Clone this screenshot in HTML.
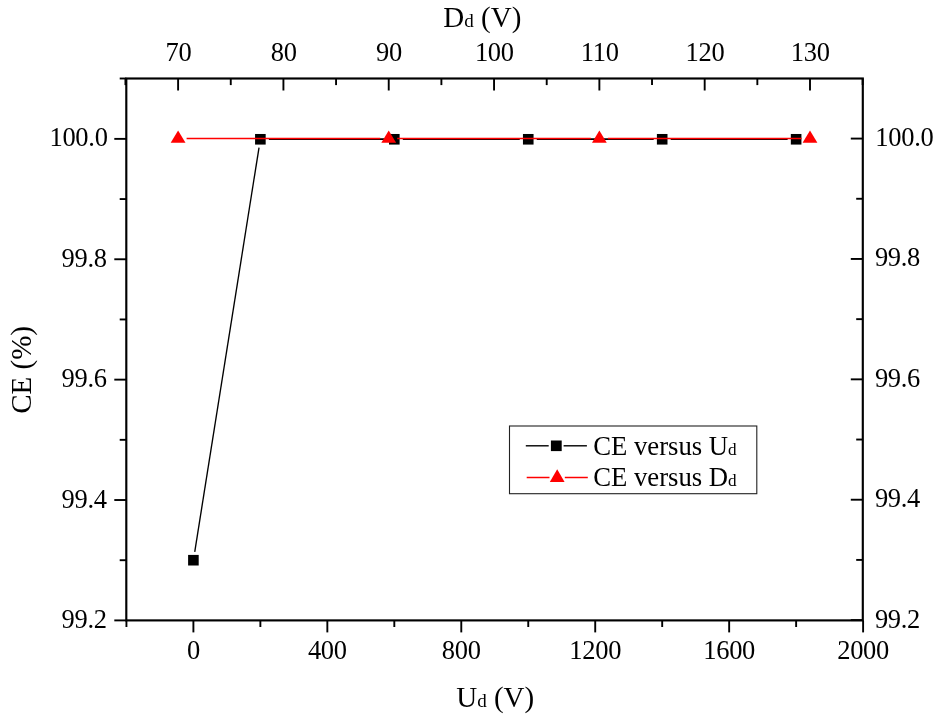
<!DOCTYPE html>
<html lang="en"><head><meta charset="utf-8"><title>CE versus Ud and Dd</title>
<style>html,body{margin:0;padding:0;background:#fff}body{width:943px;height:720px;overflow:hidden}svg{display:block}text{font-family:"Liberation Serif","Times New Roman",serif;fill:#000}.tl{font-size:26.5px;letter-spacing:-0.3px}.tt{font-size:29.0px}.lg{font-size:26.7px}</style></head><body>
<svg width="943" height="720" viewBox="0 0 943 720">
<rect width="943" height="720" fill="#fff"/>
<g stroke="#000" fill="none">
<line x1="194.74" y1="551.82" x2="259.03" y2="147.52" stroke-width="1.35"/>
<line x1="268.87" y1="139.13" x2="385.81" y2="139.13" stroke-width="1.6"/>
<line x1="402.81" y1="139.13" x2="519.75" y2="139.13" stroke-width="1.6"/>
<line x1="536.75" y1="139.13" x2="653.69" y2="139.13" stroke-width="1.6"/>
<line x1="670.69" y1="139.13" x2="787.63" y2="139.13" stroke-width="1.6"/>
</g>
<g fill="#000">
<rect x="188.10" y="554.91" width="10.60" height="10.60"/>
<rect x="255.07" y="133.98" width="10.60" height="10.60"/>
<rect x="389.01" y="133.98" width="10.60" height="10.60"/>
<rect x="522.95" y="133.98" width="10.60" height="10.60"/>
<rect x="656.89" y="133.98" width="10.60" height="10.60"/>
<rect x="790.83" y="133.98" width="10.60" height="10.60"/>
</g>
<g stroke="#ff0000" stroke-width="1.5" fill="none">
<line x1="186.60" y1="138.58" x2="380.23" y2="138.58"/>
<line x1="397.23" y1="138.58" x2="590.87" y2="138.58"/>
<line x1="607.87" y1="138.58" x2="801.50" y2="138.58"/>
</g>
<g fill="#ff0000">
<polygon points="178.10,130.48 170.70,142.78 185.50,142.78"/>
<polygon points="388.73,130.48 381.33,142.78 396.13,142.78"/>
<polygon points="599.37,130.48 591.97,142.78 606.77,142.78"/>
<polygon points="810.00,130.48 802.60,142.78 817.40,142.78"/>
</g>
<g stroke="#000" fill="none" stroke-linecap="butt">
<rect x="126.30" y="78.50" width="736.50" height="541.90" stroke-width="2.15"/>
</g>
<g stroke="#000" stroke-width="1.9">
<line x1="126.43" y1="620.40" x2="126.43" y2="627.00"/>
<line x1="193.40" y1="620.40" x2="193.40" y2="632.40"/>
<line x1="260.37" y1="620.40" x2="260.37" y2="627.00"/>
<line x1="327.34" y1="620.40" x2="327.34" y2="632.40"/>
<line x1="394.31" y1="620.40" x2="394.31" y2="627.00"/>
<line x1="461.28" y1="620.40" x2="461.28" y2="632.40"/>
<line x1="528.25" y1="620.40" x2="528.25" y2="627.00"/>
<line x1="595.22" y1="620.40" x2="595.22" y2="632.40"/>
<line x1="662.19" y1="620.40" x2="662.19" y2="627.00"/>
<line x1="729.16" y1="620.40" x2="729.16" y2="632.40"/>
<line x1="796.13" y1="620.40" x2="796.13" y2="627.00"/>
<line x1="863.10" y1="620.40" x2="863.10" y2="632.40"/>
<line x1="125.44" y1="78.50" x2="125.44" y2="85.10"/>
<line x1="178.10" y1="78.50" x2="178.10" y2="90.50"/>
<line x1="230.76" y1="78.50" x2="230.76" y2="85.10"/>
<line x1="283.42" y1="78.50" x2="283.42" y2="90.50"/>
<line x1="336.07" y1="78.50" x2="336.07" y2="85.10"/>
<line x1="388.73" y1="78.50" x2="388.73" y2="90.50"/>
<line x1="441.39" y1="78.50" x2="441.39" y2="85.10"/>
<line x1="494.05" y1="78.50" x2="494.05" y2="90.50"/>
<line x1="546.71" y1="78.50" x2="546.71" y2="85.10"/>
<line x1="599.37" y1="78.50" x2="599.37" y2="90.50"/>
<line x1="652.02" y1="78.50" x2="652.02" y2="85.10"/>
<line x1="704.68" y1="78.50" x2="704.68" y2="90.50"/>
<line x1="757.34" y1="78.50" x2="757.34" y2="85.10"/>
<line x1="810.00" y1="78.50" x2="810.00" y2="90.50"/>
<line x1="862.66" y1="78.50" x2="862.66" y2="85.10"/>
<line x1="126.30" y1="620.40" x2="114.30" y2="620.40"/>
<line x1="862.80" y1="620.10" x2="850.80" y2="620.10"/>
<line x1="126.30" y1="560.21" x2="119.70" y2="560.21"/>
<line x1="862.80" y1="559.91" x2="856.20" y2="559.91"/>
<line x1="126.30" y1="500.02" x2="114.30" y2="500.02"/>
<line x1="862.80" y1="499.72" x2="850.80" y2="499.72"/>
<line x1="126.30" y1="439.83" x2="119.70" y2="439.83"/>
<line x1="862.80" y1="439.53" x2="856.20" y2="439.53"/>
<line x1="126.30" y1="379.64" x2="114.30" y2="379.64"/>
<line x1="862.80" y1="379.34" x2="850.80" y2="379.34"/>
<line x1="126.30" y1="319.45" x2="119.70" y2="319.45"/>
<line x1="862.80" y1="319.15" x2="856.20" y2="319.15"/>
<line x1="126.30" y1="259.26" x2="114.30" y2="259.26"/>
<line x1="862.80" y1="258.96" x2="850.80" y2="258.96"/>
<line x1="126.30" y1="199.07" x2="119.70" y2="199.07"/>
<line x1="862.80" y1="198.77" x2="856.20" y2="198.77"/>
<line x1="126.30" y1="138.88" x2="114.30" y2="138.88"/>
<line x1="862.80" y1="138.58" x2="850.80" y2="138.58"/>
<line x1="126.30" y1="78.50" x2="119.70" y2="78.50"/>
</g>
<g class="tl" text-anchor="middle">
<text x="193.40" y="659.1">0</text>
<text x="327.34" y="659.1">400</text>
<text x="461.28" y="659.1">800</text>
<text x="595.22" y="659.1">1200</text>
<text x="729.16" y="659.1">1600</text>
<text x="863.10" y="659.1">2000</text>
<text x="178.40" y="60.7">70</text>
<text x="283.72" y="60.7">80</text>
<text x="389.03" y="60.7">90</text>
<text x="494.35" y="60.7">100</text>
<text x="599.67" y="60.7">110</text>
<text x="704.98" y="60.7">120</text>
<text x="810.30" y="60.7">130</text>
</g>
<g class="tl" text-anchor="end">
<text x="106.7" y="628.00">99.2</text>
<text x="106.7" y="507.62">99.4</text>
<text x="106.7" y="387.24">99.6</text>
<text x="106.7" y="266.86">99.8</text>
<text x="107.6" y="146.48">100.0</text>
</g>
<g class="tl" text-anchor="start">
<text x="874.9" y="627.60">99.2</text>
<text x="874.9" y="507.22">99.4</text>
<text x="874.9" y="386.84">99.6</text>
<text x="874.9" y="266.46">99.8</text>
<text x="875.3" y="146.08">100.0</text>
</g>
<text class="tt" x="443.3" y="26.6">D<tspan style="font-size:19.1px">d</tspan> (V)</text>
<text class="tt" x="456.2" y="706.6">U<tspan style="font-size:19.1px">d</tspan> (V)</text>
<text class="tt" transform="translate(30.8,413.8) rotate(-90)">CE (%)</text>
<rect x="509.5" y="426" width="247.3" height="67.7" fill="#fff" stroke="#222" stroke-width="1.1"/>
<g stroke="#000" stroke-width="1.4"><line x1="525.8" y1="445.8" x2="548.7" y2="445.8"/><line x1="563.6" y1="445.8" x2="586.9" y2="445.8"/></g>
<rect x="550.9" y="440.5" width="10.8" height="10.6" fill="#000"/>
<g stroke="#ff0000" stroke-width="1.5"><line x1="526.7" y1="477.5" x2="549.5" y2="477.5"/><line x1="564.8" y1="477.5" x2="587.8" y2="477.5"/></g>
<polygon points="557.2,469.3 549.8,482 564.6,482" fill="#ff0000"/>
<text class="lg" x="593.2" y="454.6">CE versus U<tspan style="font-size:17.2px">d</tspan></text>
<text class="lg" x="593.2" y="486.2">CE versus D<tspan style="font-size:17.2px">d</tspan></text>
</svg></body></html>
